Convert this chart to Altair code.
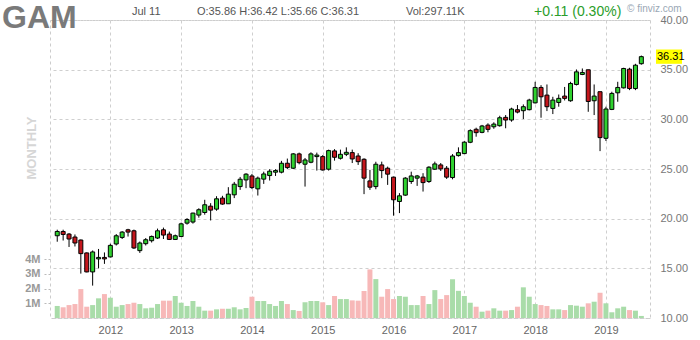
import altair as alt
import pandas as pd

months = [str(p) for p in pd.period_range("2011-04", periods=100, freq="M")]

opens = [18.28, 18.71, 18.45, 18.15, 17.85, 16.55, 14.64, 15.95, 16.10,
         16.15, 17.45, 18.11, 18.88, 18.78, 16.78, 17.48, 17.78, 18.05, 18.88, 18.45, 17.91,
         18.20, 19.55, 19.66, 20.36, 20.62, 21.26, 20.96, 22.07, 21.50, 22.40, 23.23, 23.90,
         24.30, 23.00, 23.98, 24.34, 24.68, 24.68, 25.58, 25.08, 26.52, 25.48, 25.68, 26.25,
         26.25, 24.98, 26.82, 26.08, 26.48, 26.65, 26.31, 25.98, 23.80, 23.23, 25.41, 25.08,
         24.18, 21.73, 22.37, 23.74, 24.08, 24.18, 23.74, 24.98, 25.41, 25.08, 24.14, 26.35,
         26.55, 27.69, 29.00, 28.69, 29.42, 29.25, 29.36, 30.20, 29.93, 30.97, 30.87, 30.97,
         31.66, 33.21, 32.44, 31.10, 31.70, 32.34, 31.87, 33.51, 34.52, 34.99, 31.87, 32.78,
         28.09, 31.00, 32.67, 33.17, 35.05, 33.10, 35.60]
highs = [18.89, 18.89, 18.55, 18.41, 17.90, 16.60, 16.80, 16.95, 16.60,
         17.48, 18.45, 18.75, 18.98, 18.90, 17.70, 18.05, 18.30, 19.00, 19.10, 18.70, 18.40,
         19.60, 20.05, 20.60, 21.05, 21.90, 21.56, 22.26, 22.30, 23.17, 23.70, 24.20, 24.58,
         24.50, 24.24, 24.73, 24.98, 24.98, 25.82, 26.05, 26.60, 26.65, 26.11, 26.68, 26.65,
         26.40, 26.95, 27.00, 26.95, 27.18, 26.95, 26.59, 26.08, 24.91, 25.73, 25.74, 25.24,
         24.24, 22.57, 24.18, 24.73, 24.40, 24.58, 25.28, 25.74, 25.60, 25.30, 26.50, 27.18,
         27.80, 29.00, 29.16, 29.44, 29.60, 29.70, 30.36, 30.43, 31.17, 31.44, 31.50, 32.07,
         33.78, 33.44, 33.51, 32.27, 32.50, 33.26, 33.78, 35.02, 35.12, 34.99, 33.51, 32.78,
         31.27, 32.78, 33.78, 35.19, 35.19, 35.59, 36.42]
lows = [17.68, 17.80, 17.15, 17.20, 14.47, 14.60, 13.26, 15.00, 15.45,
        16.10, 17.30, 17.95, 18.20, 16.95, 16.55, 17.30, 17.60, 17.95, 17.95, 17.85, 17.85,
        18.15, 19.40, 19.50, 20.10, 20.40, 19.82, 20.80, 21.40, 21.50, 22.07, 22.90, 23.07,
        22.98, 22.33, 23.50, 23.84, 24.30, 24.56, 25.00, 25.00, 25.47, 23.23, 25.58, 24.84,
        24.84, 24.84, 25.84, 25.95, 26.30, 25.60, 25.41, 22.47, 22.90, 22.96, 24.08, 23.40,
        20.30, 20.56, 22.30, 23.50, 23.30, 22.73, 23.60, 24.90, 24.80, 24.00, 23.96, 26.25,
        26.50, 27.60, 28.25, 28.60, 28.70, 29.05, 29.26, 29.10, 29.76, 30.60, 30.03, 30.90,
        31.60, 30.16, 30.83, 30.53, 31.27, 31.90, 31.77, 33.41, 34.45, 30.76, 30.43, 26.80,
        27.82, 30.93, 31.77, 33.10, 32.94, 32.94, 35.50]
closes = [18.71, 18.41, 17.95, 17.55, 16.48, 14.64, 16.65, 16.10, 15.95,
          17.31, 18.28, 18.65, 18.65, 17.05, 17.55, 17.88, 18.21, 18.78, 18.35, 17.91, 18.28,
          19.48, 19.92, 20.56, 20.90, 21.40, 20.86, 22.00, 21.47, 22.47, 23.47, 23.97, 24.48,
          23.13, 24.08, 24.50, 24.78, 24.84, 25.58, 25.14, 26.52, 25.64, 25.91, 26.52, 26.40,
          24.90, 26.85, 26.18, 26.48, 26.68, 26.01, 25.74, 24.08, 23.17, 25.48, 24.84, 24.48,
          21.90, 22.30, 24.08, 24.30, 24.30, 23.63, 25.18, 25.51, 25.01, 24.18, 26.31, 26.65,
          27.70, 28.86, 28.66, 29.33, 28.99, 29.52, 30.16, 29.93, 31.04, 30.73, 31.27, 31.94,
          33.21, 32.27, 31.27, 31.94, 32.11, 32.11, 33.61, 34.78, 34.72, 31.80, 32.34, 28.16,
          31.04, 32.61, 33.21, 35.12, 33.10, 35.45, 36.31]
volumes_m = [0.82, 0.73, 0.88, 0.95, 1.97, 0.77, 0.88, 1.34, 1.63,
             1.38, 0.77, 0.88, 0.95, 1.04, 0.95, 0.66, 0.70, 0.95, 1.18, 1.18, 1.50,
             1.04, 0.82, 1.16, 0.77, 0.50, 0.50, 0.59, 0.63, 0.63, 0.73, 0.59, 0.68,
             1.45, 1.16, 1.16, 0.95, 0.82, 1.16, 0.95, 0.54, 0.48, 1.07, 1.16, 1.16,
             1.07, 0.88, 1.50, 1.29, 1.29, 1.20, 1.18, 1.84, 3.31, 2.65, 1.45, 1.97,
             1.29, 1.50, 1.45, 0.88, 0.88, 1.50, 0.95, 1.90, 1.29, 1.56, 2.64, 1.85,
             1.50, 1.04, 0.77, 0.43, 0.50, 0.66, 0.50, 0.50, 0.54, 0.77, 2.09, 1.45,
             0.95, 0.88, 0.82, 0.59, 0.59, 0.54, 0.88, 0.84, 0.77, 1.00, 1.11, 1.72,
             1.00, 0.39, 0.66, 0.77, 0.54, 0.50, 0.14]

price_ticks = [10, 15, 20, 25, 30, 35, 40]
volume_ticks = [1, 2, 3, 4]

df = pd.DataFrame({
    "i": list(range(len(months))),
    "month": months,
    "open": opens, "high": highs, "low": lows, "close": closes,
    "volume": volumes_m,
})
jan_idx = [i for i, m in enumerate(months) if m.endswith("-01")]

FONT = "Liberation Sans"
GRID = "#cfcfcf"
is_up = alt.datum.close >= alt.datum.open

x_enc = alt.X(
    "i:Q",
    scale=alt.Scale(domain=[-0.38, 99.62], nice=False, zero=False),
    axis=alt.Axis(values=jan_idx, labelExpr="'' + (2011 + (datum.value + 3) / 12)",
                  grid=True, gridDash=[3, 3], gridColor=GRID, domain=False, ticks=False,
                  labelColor="#666666", labelFontSize=11, labelFont=FONT, labelPadding=6,
                  title=None),
)

price_scale = alt.Scale(domain=[10, 40], nice=False, zero=False)

base = alt.Chart(df)

vol = base.mark_bar(size=5).encode(
    x=x_enc,
    y=alt.Y("volume:Q", scale=alt.Scale(domain=[0, 20.3], nice=False),
            axis=alt.Axis(orient="left", values=volume_ticks, labelExpr="datum.value + 'M'",
                          grid=False, domain=False, ticks=True, tickSize=8, tickColor="#bbbbbb",
                          tickDash=[2, 2], labelColor="#999999", labelFontSize=11,
                          labelFontWeight="bold", labelFont=FONT, labelPadding=2, title=None)),
    color=alt.condition(is_up, alt.value("#a9dca9"), alt.value("#f7b8b8")),
)

wick = base.mark_rule(color="#000000", strokeWidth=1).encode(
    x=x_enc,
    y=alt.Y("low:Q", scale=price_scale,
            axis=alt.Axis(orient="right", values=price_ticks, format=".2f", grid=True,
                          gridDash=[3, 3], gridColor=GRID, domain=False, ticks=False,
                          labelColor="#777777", labelFontSize=11, labelFont=FONT,
                          labelPadding=10, title=None)),
    y2="high:Q",
)

body = base.mark_bar(size=4, stroke="#000000", strokeWidth=1).encode(
    x=x_enc,
    y=alt.Y("open:Q", scale=price_scale, axis=None),
    y2="close:Q",
    color=alt.condition(is_up, alt.value("#2fd12f"), alt.value("#c4161c")),
)

last = alt.Chart(df.tail(1)).transform_calculate(
    lo="datum.close - 0.72", hi="datum.close + 0.72"
)
last_box = last.mark_rect(color="#ffff00").encode(
    x=alt.value(606), x2=alt.value(632),
    y=alt.Y("lo:Q", scale=price_scale, axis=None), y2="hi:Q",
)
last_text = last.mark_text(align="left", baseline="middle", font=FONT, fontSize=11,
                           color="#000000").encode(
    x=alt.value(607),
    y=alt.Y("close:Q", scale=price_scale, axis=None),
    text=alt.Text("close:Q", format=".2f"),
)

header = pd.DataFrame({"t": ["x"]})
def label(txt, x, y, size=11, color="#555555", weight="normal", angle=0, align="left"):
    return alt.Chart(header).mark_text(
        text=txt, align=align, baseline="alphabetic", font=FONT, fontSize=size,
        color=color, fontWeight=weight, angle=angle,
    ).encode(x=alt.value(x), y=alt.value(y))

texts = [
    label("GAM", -48, 8, size=32, color="#7a7a7a", weight="bold"),
    label("Jul 11", 82, -5, color="#555555"),
    label("O:35.86  H:36.42  L:35.66  C:36.31", 147, -5, color="#555555"),
    label("Vol:297.11K", 356, -5, color="#555555"),
    label("+0.11 (0.30%)", 484, -4, size=14, color="#2a9d2a"),
    label("\u00a9 finviz.com", 577, -8, size=10, color="#9aa7b5"),
    label("MONTHLY", -14, 128, size=13, color="#d6d6d6", weight="bold", angle=270, align="center"),
]

chart = alt.layer(vol, wick, body, last_box, last_text, *texts).resolve_scale(
    y="independent"
).properties(
    width=600, height=298, autosize="none",
    padding={"left": 50, "top": 20, "right": 50, "bottom": 22},
    background="#ffffff",
).configure_view(stroke="#cccccc", strokeDash=[3, 3])

chart.save("out.html", embed_options={"renderer": "svg", "actions": False})
